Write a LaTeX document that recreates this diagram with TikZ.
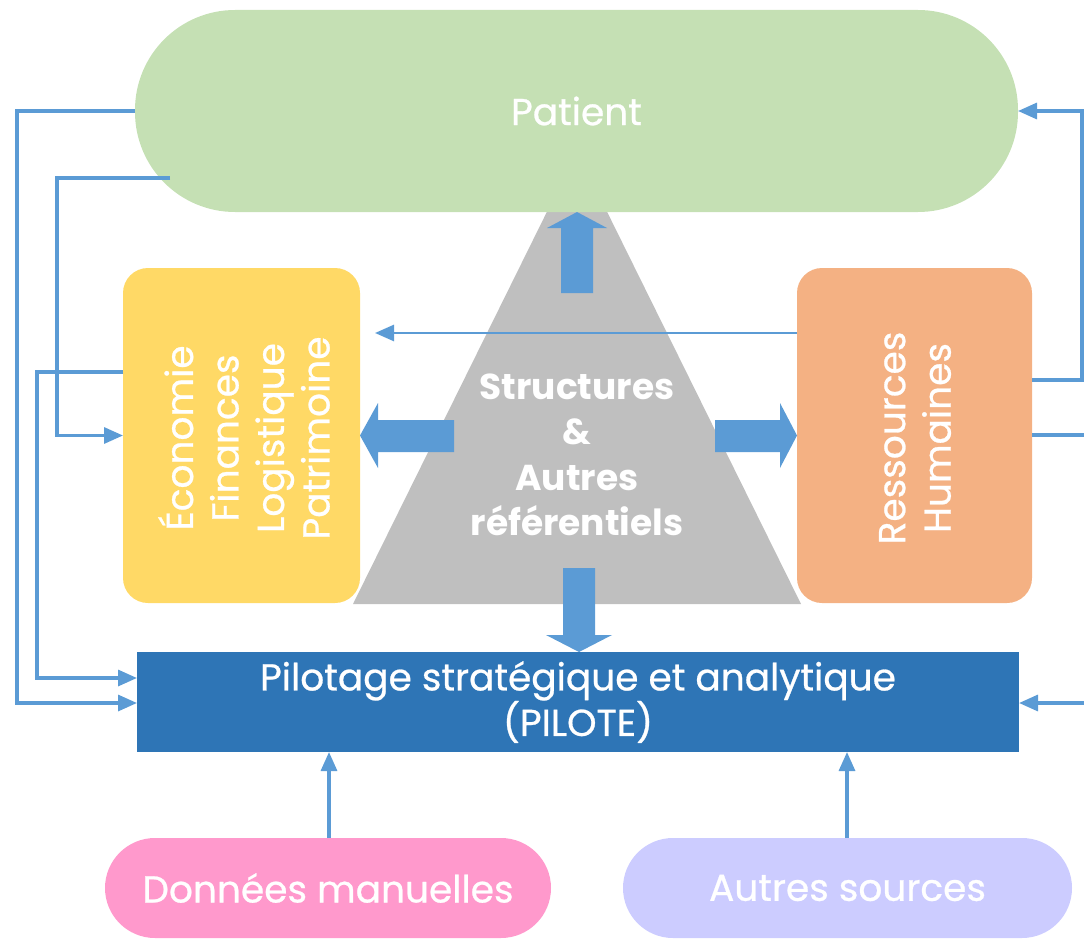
\documentclass[tikz,border=0pt]{standalone}
\usepackage{fontspec}
\setmainfont{Poppins}
\newfontfamily\medfont[FakeBold=0.7]{Poppins}
\usetikzlibrary{arrows.meta,calc}
\definecolor{cpat}{HTML}{C5E0B4}
\definecolor{ceco}{HTML}{FFD966}
\definecolor{crh}{HTML}{F4B183}
\definecolor{cpil}{HTML}{2E75B6}
\definecolor{cdon}{HTML}{FF99CC}
\definecolor{caut}{HTML}{CCCCFF}
\definecolor{ctri}{HTML}{BFBFBF}
\definecolor{carr}{HTML}{5B9BD5}
\tikzset{
  boxbase/.style={inner sep=0pt, outer sep=0pt, text=white, align=center},
  conn/.style={draw=carr, line width=3.2pt, -{Triangle[length=19pt,width=16pt]}},
  plainconn/.style={draw=carr, line width=3.2pt},
  blockarrow/.style={fill=carr, draw=none},
  lbl/.style={font=\medfont\fontsize{37.5}{45.5}\selectfont},
}
\begin{document}
\begin{tikzpicture}[x=1pt,y=-1pt]
\useasboundingbox (0,0) rectangle (1084,939);
% triangle
\fill[ctri] (353,604) -- (577,151) -- (801,604) -- cycle;
\node[boxbase, text=white, font=\bfseries\fontsize{36}{45.5}\selectfont] (tri) at (577,455) {Structures\\\&\\Autres\\référentiels};
% boxes
\node[boxbase, lbl, fill=cpat, minimum width=883pt, minimum height=202pt, rounded corners=100pt] (pat) at (576.5,111) {Patient};
\node[boxbase, fill=ceco, minimum width=237pt, minimum height=335pt, rounded corners=25pt] (eco) at (241.5,435.5) {};
\node[boxbase, lbl, rotate=90] (ecot) at (244,438) {Économie\\Finances\\Logistique\\Patrimoine};
\node[boxbase, fill=crh, minimum width=235pt, minimum height=335pt, rounded corners=25pt] (rh) at (914.5,435.5) {};
\node[boxbase, lbl, rotate=90] (rht) at (915,438) {Ressources\\Humaines};
\node[boxbase, lbl, fill=cpil, minimum width=882pt, minimum height=100pt] (pil) at (578,702) {Pilotage stratégique et analytique\\(PILOTE)};
\node[boxbase, lbl, fill=cdon, minimum width=446pt, minimum height=100pt, rounded corners=50pt] (don) at (328,888) {Données manuelles};
\node[boxbase, lbl, fill=caut, minimum width=449pt, minimum height=100pt, rounded corners=50pt] (aut) at (847.5,888) {Autres sources};
% block arrows
\fill[blockarrow] (561,293) -- (561,228) -- (547,228) -- (577,212) -- (607,228) -- (593,228) -- (593,293) -- cycle;
\fill[blockarrow] (454,420) -- (378,420) -- (378,403) -- (360,435.5) -- (378,468) -- (378,452) -- (454,452) -- cycle;
\fill[blockarrow] (715,420) -- (780,420) -- (780,403) -- (797,435.5) -- (780,468) -- (780,452) -- (715,452) -- cycle;
\fill[blockarrow] (563,568) -- (595,568) -- (595,635) -- (612,635) -- (579,652) -- (546,635) -- (563,635) -- cycle;
% free coordinates
\coordinate (pin) at (170,178);
\coordinate (redge) at (1086,435);
\coordinate (redge2) at (1086,703);
% connectors
\draw[conn] (pat.west) -- (17,111) -- (17,703) -- (pil.west |- 0,703);
\draw[conn] (pin) -- (57,178) -- (57,435.5) -- (eco.west);
\draw[conn] (eco.west |- 0,372) -- (37,372) -- (37,678) -- (pil.west |- 0,678);
\draw[conn] (rh.east |- 0,380) -- (1082,380) -- (1082,111) -- (pat.east);
\draw[plainconn] (rh.east |- 0,435) -- (redge);
\draw[conn] (redge2) -- (pil.east |- 0,703);
\draw[conn, line width=2.6pt] (rh.west |- 0,333) -- (375,333);
\draw[conn] (don.north -| 329,0) -- (pil.south -| 329,0);
\draw[conn] (aut.north -| 847,0) -- (pil.south -| 847,0);
\end{tikzpicture}
\end{document}
